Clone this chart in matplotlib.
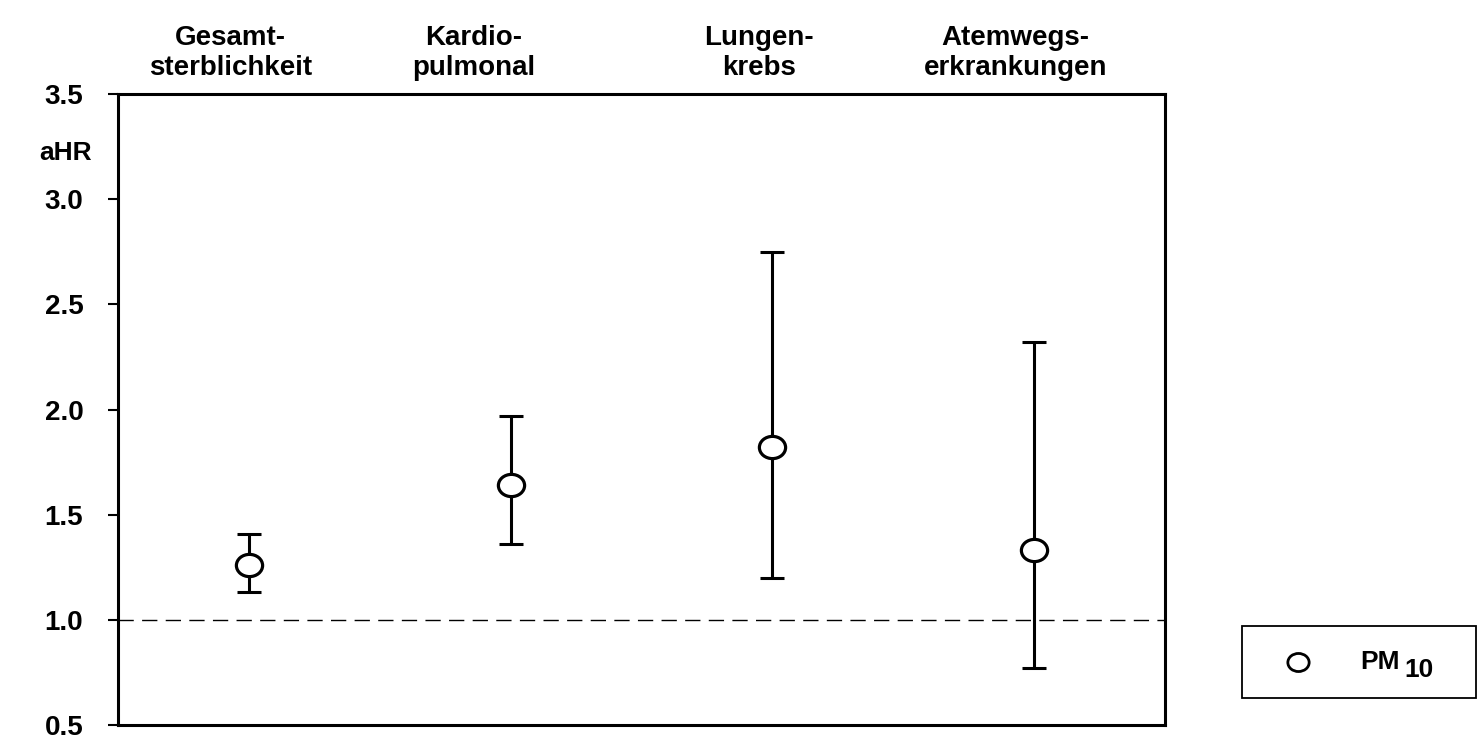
import matplotlib
matplotlib.use("Agg")
import matplotlib.pyplot as plt
from matplotlib.lines import Line2D
from matplotlib.patches import Rectangle
from matplotlib.markers import MarkerStyle
import matplotlib.transforms as mtrans

categories = ["Gesamt-\nsterblichkeit", "Kardio-\npulmonal", "Lungen-\nkrebs", "Atemwegs-\nerkrankungen"]
ahr = [1.26, 1.64, 1.82, 1.33]
ci_low = [1.13, 1.36, 1.20, 0.77]
ci_high = [1.41, 1.97, 2.75, 2.32]
yticks = [0.5, 1.0, 1.5, 2.0, 2.5, 3.0, 3.5]
label_offsets = [-0.07, -0.14, -0.05, -0.07]

plt.rcParams['font.family'] = ['Liberation Sans', 'DejaVu Sans']
plt.rcParams['font.weight'] = 'bold'

fig = plt.figure(figsize=(14.77, 7.41), dpi=100)
ax = fig.add_axes([118/1477, 1-725/741, (1165-118)/1477, (725-94)/741])

ellipse = MarkerStyle('o', transform=mtrans.Affine2D().scale(1.18, 1.0))

x = [i + 0.5 for i in range(len(categories))]
yerr = [[a - l for a, l in zip(ahr, ci_low)], [h - a for a, h in zip(ahr, ci_high)]]
ax.axhline(1.0, color='black', lw=1.0, dashes=(11, 6), zorder=1)
ax.errorbar(x, ahr, yerr=yerr, fmt='none', ecolor='black', elinewidth=2.2,
            capsize=8.5, capthick=2.2, zorder=2)
ax.plot(x, ahr, linestyle='none', marker=ellipse, markersize=16, markerfacecolor='white',
        markeredgecolor='black', markeredgewidth=2.3, zorder=3)

ax.set_xlim(0, len(categories))
ax.set_ylim(0.5, 3.5)
ax.set_yticks(yticks)
ax.set_yticklabels([f"{v:.1f}" for v in yticks], fontsize=20, fontweight='bold')
ax.set_xticks([])
ax.tick_params(axis='y', direction='out', length=7, width=1.5, pad=18)
for s in ax.spines.values():
    s.set_linewidth(2.2)

trans = mtrans.blended_transform_factory(ax.transData, ax.transAxes)
for xi, cat, off in zip(x, categories, label_offsets):
    ax.text(xi + off, 1 + 13/631, cat, transform=trans, ha='center', va='bottom',
            fontsize=20, fontweight='bold', linespacing=1.22)

ax.text(-0.1, 3.22, "aHR", transform=ax.transData, ha='right', va='center',
        fontsize=19, fontweight='bold')

# legend box
fig.patches.append(Rectangle((1242/1477, 1-698/741), (1476-1242)/1477, (698-626)/741,
                             transform=fig.transFigure, fill=False, edgecolor='black', lw=1.3))
fig.add_artist(Line2D([1298/1477], [1-662/741], transform=fig.transFigure, marker=ellipse,
                      markersize=13, markerfacecolor='white', markeredgecolor='black',
                      markeredgewidth=2.0, linestyle='none'))
fig.text(1360/1477, 1-669/741, "PM", ha='left', va='baseline', fontsize=19, fontweight='bold')
fig.text(1404/1477, 1-677/741, "10", ha='left', va='baseline', fontsize=19, fontweight='bold')

fig.savefig("out.png", dpi=100)
